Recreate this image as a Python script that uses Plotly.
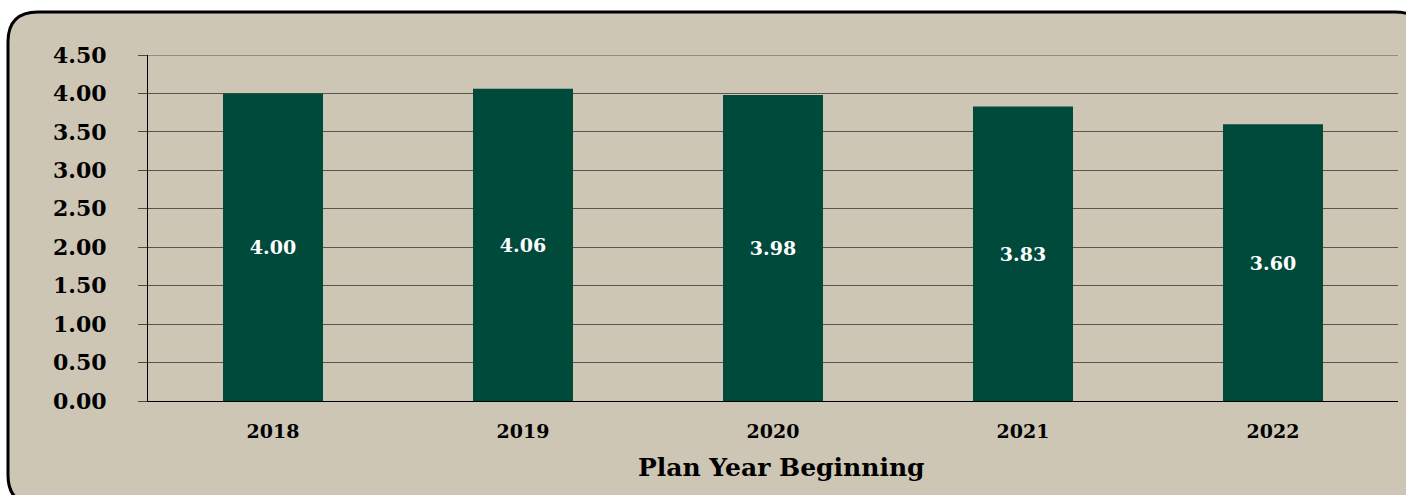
import plotly.graph_objects as go

# Plan year data
years = ["2018", "2019", "2020", "2021", "2022"]
values = [4.00, 4.06, 3.98, 3.83, 3.60]
y_ticks = [0, 0.5, 1.0, 1.5, 2.0, 2.5, 3.0, 3.5, 4.0, 4.5]
y_tick_text = ["0.00", "0.50", "1.00", "1.50", "2.00", "2.50", "3.00", "3.50", "4.00", "4.50"]
x_title = "Plan Year Beginning"

W, H = 1406, 495
ML, MR, MT, MB = 148, 8, 55, 94
PW, PH = W - ML - MR, H - MT - MB

BG = "#CDC6B4"
BAR = "#004A3B"
GRID = "#5a564e"
FONT = "DejaVu Serif"


def px(x):
    return (x - ML) / PW


def py(y):
    return (H - MB - y) / PH


# rounded frame around the whole chart (pixel geometry -> paper coords);
# its right and bottom sides run past the page edge
x0, x1, y0, y1, r = 8, 1425, 12, 505, 30
frame = (
    f"M {px(x0 + r)},{py(y0)} L {px(x1 - r)},{py(y0)} "
    f"Q {px(x1)},{py(y0)} {px(x1)},{py(y0 + r)} "
    f"L {px(x1)},{py(y1 - r)} Q {px(x1)},{py(y1)} {px(x1 - r)},{py(y1)} "
    f"L {px(x0 + r)},{py(y1)} Q {px(x0)},{py(y1)} {px(x0)},{py(y1 - r)} "
    f"L {px(x0)},{py(y0 + r)} Q {px(x0)},{py(y0)} {px(x0 + r)},{py(y0)} Z"
)

fig = go.Figure()
fig.add_trace(
    go.Bar(
        x=years,
        y=values,
        marker=dict(color=BAR, line=dict(width=0)),
        text=[f"{v:.2f}" for v in values],
        textposition="inside",
        insidetextanchor="middle",
        textangle=0,
        textfont=dict(family=FONT, size=19, color="white", weight="bold"),
        hoverinfo="skip",
    )
)

fig.add_shape(
    type="path",
    path=frame,
    xref="paper",
    yref="paper",
    fillcolor=BG,
    line=dict(color="black", width=3),
    layer="below",
)

# gridline along the top of the value range
fig.add_shape(
    type="line",
    xref="paper",
    yref="y",
    x0=0,
    x1=1,
    y0=y_ticks[-1],
    y1=y_ticks[-1],
    line=dict(color=GRID, width=1),
    layer="below",
)

# x-axis title
fig.add_annotation(
    text=x_title,
    xref="paper",
    yref="paper",
    x=px(781),
    y=py(467),
    xanchor="center",
    yanchor="middle",
    showarrow=False,
    font=dict(family=FONT, size=25, color="black", weight="bold"),
)

fig.update_layout(
    width=W,
    height=H,
    margin=dict(l=ML, r=MR, t=MT, b=MB),
    paper_bgcolor="white",
    plot_bgcolor="rgba(0,0,0,0)",
    bargap=0.6,
    showlegend=False,
    font=dict(family=FONT, color="black"),
    xaxis=dict(
        showline=True,
        linecolor="black",
        linewidth=1,
        ticks="",
        tickfont=dict(family=FONT, size=19, color="black", weight="bold"),
        ticklabelstandoff=13,
        showgrid=False,
    ),
    yaxis=dict(
        range=[0, 4.5],
        tickvals=y_ticks,
        ticktext=y_tick_text,
        showline=True,
        linecolor="black",
        linewidth=1,
        ticks="outside",
        ticklen=9,
        tickcolor="#4a4640",
        tickfont=dict(family=FONT, size=22, color="black", weight="bold"),
        ticklabelstandoff=27,
        showgrid=True,
        gridcolor=GRID,
        gridwidth=1,
        zeroline=True,
        zerolinecolor="black",
        zerolinewidth=1,
    ),
)

fig.write_html("out.html")
